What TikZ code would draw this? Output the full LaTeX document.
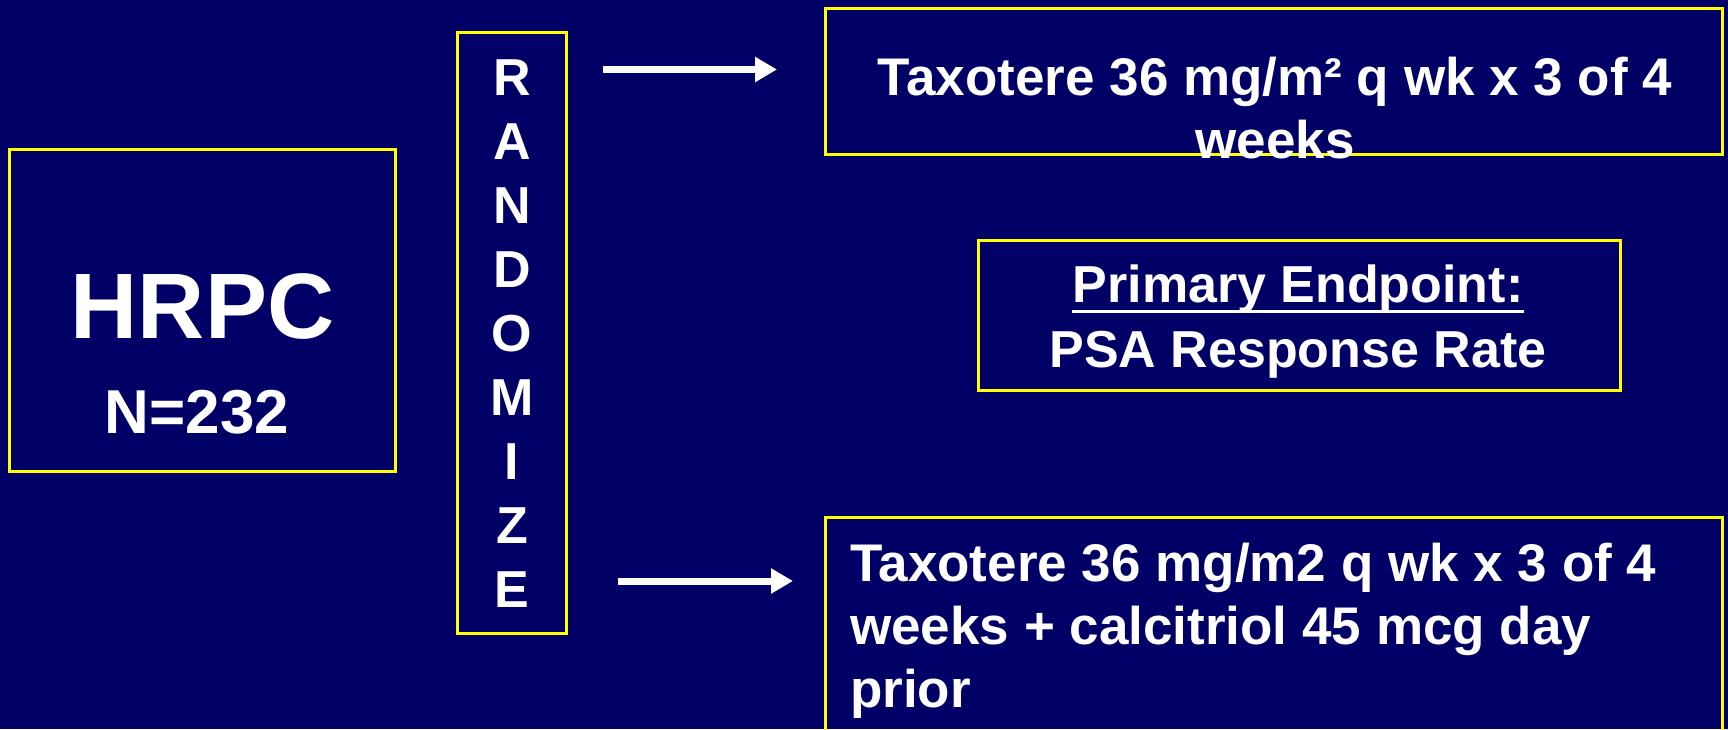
\documentclass[tikz,border=0pt]{standalone}
\usepackage{fontspec}
\setmainfont{Liberation Sans}
\usetikzlibrary{arrows.meta}
\definecolor{bg}{RGB}{0,0,102}
\definecolor{ybox}{RGB}{255,255,0}
\tikzset{
  box/.style={draw=ybox, line width=3pt, fill=none, inner sep=0pt},
  txt/.style={text=white, inner sep=0pt, anchor=base, font=\bfseries\fontsize{53}{63}\selectfont},
  rletter/.style={text=white, inner sep=0pt, anchor=base, font=\bfseries\fontsize{52}{60}\selectfont},
  arr/.style={draw=white, line width=7pt, -{Triangle[length=22pt,width=24pt]}}
}
\begin{document}
\begin{tikzpicture}[x=1pt,y=-1pt]
\fill[bg] (0,0) rectangle (1728,729);
\useasboundingbox (0,0) rectangle (1728,729);
\clip (0,0) rectangle (1728,729);
% boxes
\node[box, minimum width=386pt, minimum height=322pt] (hrpcbox) at (202,310) {};
\node[box, minimum width=109pt, minimum height=601pt] (randbox) at (511.5,332.5) {};
\node[box, minimum width=897pt, minimum height=146pt] (topbox) at (1273.5,81) {};
\node[box, minimum width=642pt, minimum height=150pt] (pebox) at (1299,315) {};
\node[box, minimum width=897pt, minimum height=226pt] (botbox) at (1273.5,630) {};
% HRPC
\node[txt, font=\bfseries\fontsize{93}{100}\selectfont] (hrpc) at (202.5,338) {HRPC};
\node[txt, font=\bfseries\fontsize{62}{70}\selectfont] (nn) at (197,433) {N=232};
% RANDOMIZE
\foreach \l [count=\i] in {R,A,N,D,O,M,I,Z,E} {
  \node[rletter] (r\i) at (512,{95+64.1*(\i-1)}) {\l};
}
% top arm
\node[txt] (t1) at (1275,95) {Taxotere 36 mg/m² q wk x 3 of 4};
\node[txt] (t2) at (1275,158) {weeks};
% primary endpoint
\node[txt, font=\bfseries\fontsize{52}{60}\selectfont] (pe1) at (1298,302) {Primary Endpoint:};
\draw[white, line width=3.5pt] ([yshift=-9.5pt]pe1.base west) -- ([yshift=-9.5pt]pe1.base east);
\node[txt, font=\bfseries\fontsize{52}{60}\selectfont] (pe2) at (1298,367) {PSA Response Rate};
% bottom arm
\node[txt, anchor=base west] (b1) at (850,581) {Taxotere 36 mg/m2 q wk x 3 of 4};
\node[txt, anchor=base west] (b2) at (850,644) {weeks + calcitriol 45 mcg day};
\node[txt, anchor=base west] (b3) at (850,707) {prior};
% arrows
\coordinate (a1s) at (603,69.5);
\coordinate (a1e) at (777,69.5);
\coordinate (a2s) at (618,581);
\coordinate (a2e) at (793,581);
\draw[arr] (a1s) -- (a1e);
\draw[arr] (a2s) -- (a2e);
\end{tikzpicture}
\end{document}
